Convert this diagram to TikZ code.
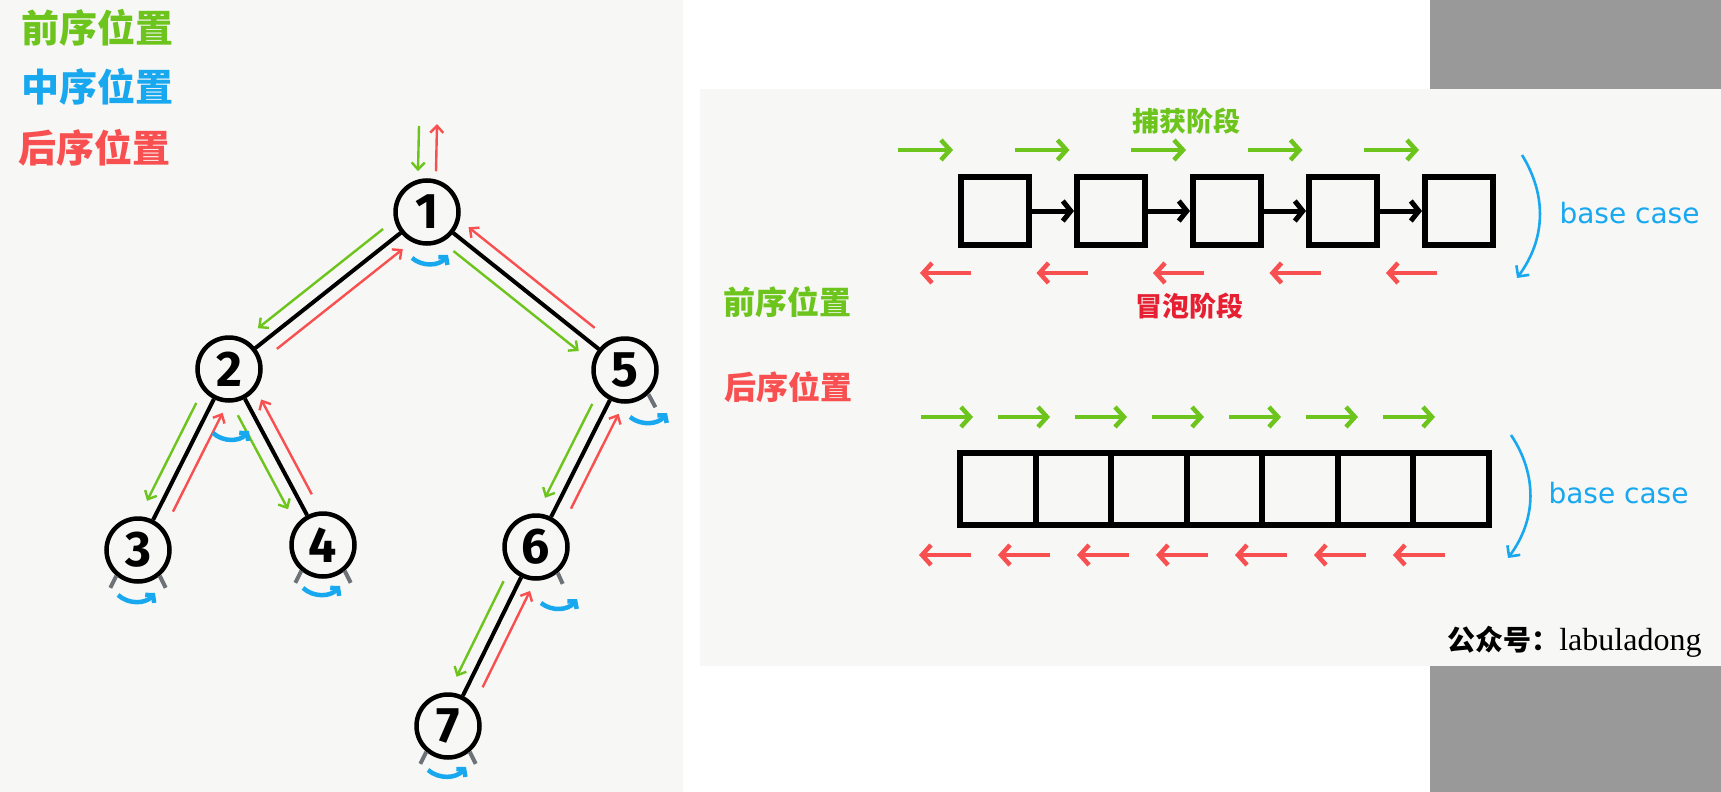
\documentclass[tikz,border=0pt]{standalone}
\usepackage{fontspec}
\usepackage{tikz}
\usetikzlibrary{arrows.meta, positioning, calc}

\newfontfamily\cjk{Noto Sans CJK SC}
\newfontfamily\digitfont{Fira Sans}
\newfontfamily\casefont{DejaVu Sans}
\newfontfamily\signfont{Liberation Serif}

\definecolor{pregreen}{RGB}{108,196,28}
\definecolor{inblue}{RGB}{24,168,240}
\definecolor{postred}{RGB}{248,80,80}
\definecolor{bubblered}{RGB}{230,32,50}
\definecolor{nilgray}{RGB}{108,114,120}
\definecolor{paper}{RGB}{247,247,245}
\definecolor{sidegray}{RGB}{153,153,153}

% green down one side of a branch, red back up the other
\newcommand{\walk}[2]{%
  \draw[preline, shorten <=45pt, shorten >=48pt] ($(#1)!14pt!-90:(#2)$) -- ($(#2)!14pt!90:(#1)$);
  \draw[postline, shorten <=50pt, shorten >=42pt] ($(#2)!14pt!-90:(#1)$) -- ($(#1)!14pt!90:(#2)$);
}
% blue hook under a node
\newcommand{\inorder}[5]{%
  \draw[inarc] ($(#1)+(#2,#3)$) to[bend right=45] ($(#1)+(#4,#5)$);
}

\begin{document}
\begin{tikzpicture}[x=1pt, y=-1pt, on grid,
    main/.style = {draw, circle, line width=4.5pt, minimum size=63pt, inner sep=0pt,
                   font=\digitfont\bfseries\fontsize{50}{50}\selectfont},
    branch/.style = {line width=4pt},
    preline/.style = {draw=pregreen, line width=2.4pt, -{Straight Barb[length=7pt,width=13pt]}},
    postline/.style = {draw=postred, line width=2.4pt, -{Straight Barb[length=7pt,width=13pt]}},
    inarc/.style = {draw=inblue, line width=4.5pt, -{Straight Barb[length=5pt,width=12pt]}},
    nil/.style = {draw=nilgray, line width=4pt},
    title/.style = {font=\cjk\bfseries\fontsize{38}{38}\selectfont},
    label/.style = {font=\cjk\bfseries\fontsize{32}{32}\selectfont},
    stage/.style = {font=\cjk\bfseries\fontsize{27}{27}\selectfont},
    casetext/.style = {font=\casefont\fontsize{28}{28}\selectfont, text=inblue, anchor=west},
    cell/.style = {draw, rectangle, line width=6pt, minimum width=68pt, minimum height=68pt},
    slot/.style = {draw, rectangle, line width=6pt, minimum width=75.5pt, minimum height=72pt},
    link/.style = {line width=5pt, -{Straight Barb[length=8pt,width=20pt]}},
    fwd/.style = {draw=pregreen, line width=4.5pt, -{Straight Barb[length=9pt,width=20pt]}},
    bwd/.style = {draw=postred, line width=4.5pt, -{Straight Barb[length=9pt,width=20pt]}},
    drop/.style = {draw=inblue, line width=2.6pt, -{Straight Barb[length=8pt,width=16pt]}}]

    % backgrounds
    \fill[white] (0,0) rectangle (1721,792);
    \fill[paper] (0,0) rectangle (683,792);
    \fill[sidegray] (1430,0) rectangle (1721,792);
    \fill[paper] (700,89) rectangle (1721,666);
    \useasboundingbox (0,0) rectangle (1721,792);

    % legend
    \node[title, text=pregreen] (pre title) at (97,28) {前序位置};
    \node[title, text=inblue] (in title) at (97,87) {中序位置};
    \node[title, text=postred] (post title) at (95,148) {后序位置};

    % tree
    \node[main] (n1) at (427,212) {1};
    \node[main] (n2) [below left=157pt and 198pt of n1] {2};
    \node[main] (n5) [below right=158pt and 198pt of n1] {5};
    \node[main] (n3) [below left=181pt and 91pt of n2] {3};
    \node[main] (n4) [below right=176pt and 94pt of n2] {4};
    \node[main] (n6) [below left=177pt and 89pt of n5] {6};
    \node[main] (n7) [below left=179pt and 88pt of n6] {7};

    \draw[branch] (n1) -- (n2);
    \draw[branch] (n1) -- (n5);
    \draw[branch] (n2) -- (n3);
    \draw[branch] (n2) -- (n4);
    \draw[branch] (n5) -- (n6);
    \draw[branch] (n6) -- (n7);

    \walk{n1}{n2}
    \walk{n1}{n5}
    \walk{n2}{n3}
    \walk{n2}{n4}
    \walk{n5}{n6}
    \walk{n6}{n7}

    \coordinate (entry) at (428,126);
    \draw[preline] ([xshift=-9pt]entry) -- ([xshift=-9pt,yshift=7pt]n1.north);
    \draw[postline] ([xshift=9pt,yshift=7pt]n1.north) -- ([xshift=9pt,yshift=2pt]entry);

    \inorder{n1}{-15}{46}{21}{43}
    \inorder{n2}{-16}{64}{20}{62}
    \inorder{n3}{-20}{45}{17}{43}
    \inorder{n4}{-20}{43}{17}{41}
    \inorder{n5}{5}{47}{42}{43}
    \inorder{n6}{5}{56}{41}{52}
    \inorder{n7}{-20}{44}{18}{41}

    % null children
    \draw[nil] (n3.-130) -- ++(-6,12);
    \draw[nil] (n3.-50) -- ++(6,12);
    \draw[nil] (n4.-130) -- ++(-6,12);
    \draw[nil] (n4.-50) -- ++(6,12);
    \draw[nil] (n5.-46) -- ++(7,13);
    \draw[nil] (n6.-50) -- ++(5,11);
    \draw[nil] (n7.-130) -- ++(-6,12);
    \draw[nil] (n7.-50) -- ++(6,12);

    % linked list
    \node[stage, text=pregreen] (capture) at (1186,121) {捕获阶段};
    \foreach \i in {0,...,4}
        \draw[fwd] ({898+116.5*\i},150) -- ++(55,0);
    \foreach \i in {1,...,5}
        \node[cell] (b\i) at ({995+116*(\i-1)},211) {};
    \foreach \i [evaluate=\i as \j using int(\i+1)] in {1,...,4}
        \draw[link] (b\i) -- (b\j);
    \foreach \i in {0,...,4}
        \draw[bwd] ({971+116.5*\i},273) -- ++(-51,0);
    \node[stage, text=bubblered] (bubble) at (1189,306) {冒泡阶段};
    \coordinate (drop1 top) at (1522,155);
    \coordinate (drop1 end) at (1517,278);
    \draw[drop] (drop1 top) to[bend left=34] (drop1 end);
    \node[casetext] (case1) at (1556,213) {base case};

    \node[label, text=pregreen] (pre label) at (787,302) {前序位置};
    \node[label, text=postred] (post label) at (788,387) {后序位置};

    % array
    \foreach \i in {0,...,6}
        \draw[fwd] ({921+77*\i},417) -- ++(52,0);
    \foreach \i in {1,...,7}
        \node[slot] (s\i) at ({997.75+75.5*(\i-1)},489) {};
    \foreach \i in {0,...,6}
        \draw[bwd] ({971+79*\i},555) -- ++(-52,0);
    \coordinate (drop2 top) at (1511,435);
    \coordinate (drop2 end) at (1508,558);
    \draw[drop] (drop2 top) to[bend left=35] (drop2 end);
    \node[casetext] (case2) at (1545,493) {base case};

    \node[anchor=base east] (sign) at (1705,650)
        {{\cjk\bfseries\fontsize{28}{28}\selectfont 公众号：}{\signfont\fontsize{32}{32}\selectfont labuladong}};
\end{tikzpicture}
\end{document}
